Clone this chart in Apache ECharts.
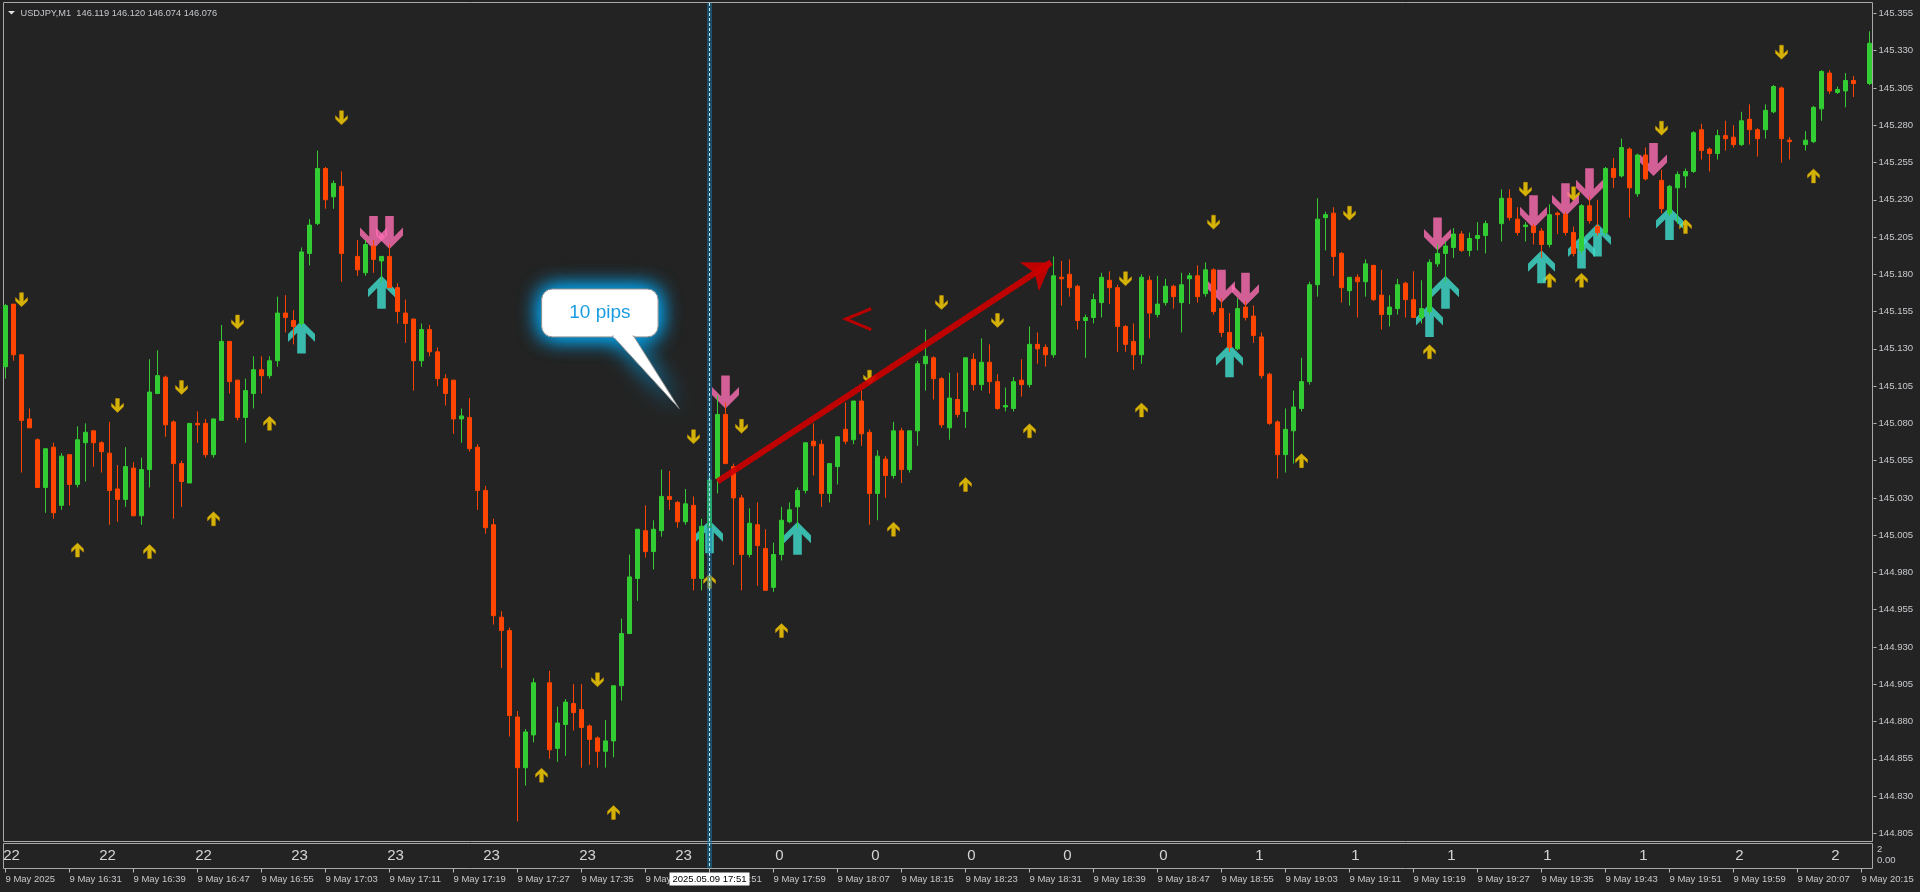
<!DOCTYPE html>
<html><head><meta charset="utf-8">
<script src="https://cdn.jsdelivr.net/npm/echarts@6.0.0/dist/echarts.min.js"></script>
<style>html,body{margin:0;padding:0;background:#232323;overflow:hidden}#c{width:1920px;height:892px}</style>
</head><body><div id="c"></div>
<script>
// ---------------- data ----------------
const symbolTitle = 'USDJPY,M1';
const headerQuote = '146.119 146.120 146.074 146.076';
const firstBarTime = [16, 23];   // 9 May 2025 16:23, M1 bars
const barCount = 234;
const times = [];
for (let k = 0; k < barCount; k++) {
  const m = firstBarTime[0] * 60 + firstBarTime[1] + k;
  times.push(String(Math.floor(m / 60)).padStart(2, '0') + ':' + String(m % 60).padStart(2, '0'));
}
const opens = [145.118,145.160,145.126,145.083,145.069,145.037,145.064,145.025,145.059,145.039,
145.067,145.075,145.067,145.060,145.036,145.029,145.050,145.018,145.049,145.100,
145.111,145.081,145.053,145.040,145.080,145.080,145.059,145.082,145.135,145.109,
145.084,145.100,145.116,145.112,145.122,145.154,145.149,145.147,145.194,145.214,
145.251,145.232,145.239,null,145.192,145.181,145.199,145.189,145.192,145.171,
145.154,145.150,145.122,145.143,145.128,145.110,145.109,145.083,145.084,145.064,
145.035,145.012,144.950,144.941,144.883,144.849,144.871,null,144.906,144.862,
144.878,144.892,144.888,144.877,144.869,144.860,144.867,144.904,144.939,144.976,
145.008,144.994,145.008,145.031,145.027,145.014,145.025,144.976,145.010,145.043,
145.086,145.051,145.030,144.992,145.012,144.996,144.970,144.992,145.014,145.024,
145.035,145.068,145.066,145.033,145.051,145.076,145.069,145.095,145.074,145.033,
145.056,145.045,145.075,145.049,145.075,145.120,145.124,145.110,145.077,145.096,
145.088,145.123,145.106,145.121,145.108,145.091,145.090,145.109,145.106,145.133,
145.131,145.126,145.178,145.180,145.172,145.149,145.151,145.161,145.176,145.171,
145.145,145.135,145.126,145.176,145.153,145.161,145.172,145.161,145.177,145.179,
145.167,145.183,145.157,145.141,145.130,145.158,145.152,145.138,145.113,145.081,
145.059,145.075,145.090,145.108,145.173,145.218,145.221,145.194,145.169,145.178,
145.175,145.186,145.166,145.153,145.157,145.174,145.163,145.151,145.155,145.187,
145.194,145.198,145.207,145.196,145.204,145.206,null,145.214,145.231,145.217,
145.212,145.212,145.209,145.200,145.221,145.220,145.208,145.196,145.226,145.212,
145.208,145.251,145.246,145.264,145.234,145.260,null,145.243,145.221,145.238,
145.246,145.249,145.277,145.264,145.261,145.273,145.272,145.267,145.284,145.277,
145.277,145.289,145.305,145.270,null,145.267,145.269,145.291,145.315,145.302,
145.303,145.310,null,145.308];
const highs = [145.160,145.160,145.126,145.090,145.070,145.063,145.067,145.060,145.059,145.078,
145.080,145.075,145.068,145.081,145.052,145.064,145.054,145.057,145.123,145.129,
145.112,145.082,145.055,145.080,145.088,145.083,145.083,145.146,145.135,145.109,
145.110,145.125,145.125,145.125,145.165,145.166,145.156,145.198,145.217,145.263,
145.252,145.243,145.249,null,145.203,145.203,145.203,145.192,145.200,145.174,
145.163,145.150,145.147,145.146,145.131,145.113,145.109,145.090,145.097,145.066,
145.038,145.016,144.954,144.943,144.887,144.875,144.909,null,144.914,144.890,
144.895,144.905,144.905,144.878,144.870,144.881,144.904,144.949,144.992,145.009,
145.025,145.015,145.049,145.048,145.028,145.036,145.031,145.016,145.045,145.099,
145.094,145.053,145.032,145.023,145.027,145.009,145.000,145.024,145.027,145.037,
145.067,145.080,145.069,145.053,145.071,145.094,145.095,145.102,145.076,145.062,
145.058,145.081,145.077,145.075,145.122,145.143,145.125,145.111,145.114,145.114,
145.124,145.127,145.137,145.133,145.113,145.104,145.111,145.123,145.145,145.141,
145.133,145.192,145.189,145.190,145.173,145.153,145.167,145.181,145.182,145.173,
145.146,145.147,145.180,145.179,145.179,145.177,145.173,145.181,145.181,145.186,
145.188,145.184,145.164,145.154,145.164,145.162,145.159,145.141,145.114,145.082,
145.090,145.102,145.124,145.175,145.231,145.222,145.225,145.195,145.178,145.180,
145.190,145.186,145.183,145.166,145.177,145.175,145.182,145.176,145.190,145.200,
145.202,145.211,145.209,145.208,145.215,145.216,null,145.237,145.237,145.225,
145.215,145.214,145.211,145.227,145.222,145.222,145.212,145.227,145.232,145.230,
145.252,145.258,145.271,145.265,145.261,145.265,null,145.250,145.240,145.249,
145.251,145.276,145.281,145.265,145.277,145.283,145.280,145.289,145.294,145.278,
145.294,145.307,145.306,145.272,null,145.276,145.293,145.317,145.317,145.306,
145.315,145.313,null,145.343];
const lows = [145.110,145.122,145.047,145.077,145.037,145.020,145.016,145.022,145.025,145.037,
145.041,145.051,145.047,145.012,145.014,145.024,145.018,145.012,145.037,145.100,
145.071,145.016,145.024,145.040,145.067,145.057,145.057,145.082,145.100,145.082,
145.067,145.090,145.100,145.110,145.118,145.141,145.133,145.145,145.186,145.213,
145.224,145.224,145.175,null,145.179,145.179,145.181,145.175,145.171,145.147,
145.134,145.102,145.118,145.125,145.105,145.092,145.073,145.067,145.061,145.022,
145.006,144.945,144.916,144.870,144.813,144.837,144.866,null,144.855,144.853,
144.857,144.874,144.849,144.851,144.849,144.849,144.856,144.894,144.939,144.961,
144.990,144.982,145.004,145.022,145.010,145.012,144.968,144.968,144.998,145.033,
145.053,144.985,144.968,144.990,144.971,144.968,144.967,144.988,145.013,145.010,
145.033,145.045,145.024,145.027,145.039,145.066,145.066,145.065,145.012,145.015,
145.030,145.043,145.040,145.047,145.065,145.102,145.096,145.077,145.069,145.084,
145.077,145.102,145.102,145.100,145.089,145.088,145.088,145.098,145.104,145.120,
145.118,145.124,145.159,145.165,145.143,145.124,145.147,145.151,145.160,145.128,
145.128,145.116,145.120,145.137,145.151,145.159,145.157,145.141,145.160,145.161,
145.165,145.153,145.138,145.128,145.129,145.149,145.134,145.110,145.079,145.043,
145.047,145.053,145.088,145.106,145.165,145.196,145.179,145.161,145.159,145.151,
145.165,145.162,145.143,145.145,145.153,145.151,145.151,145.147,145.153,145.185,
145.175,145.191,145.195,145.192,145.196,145.194,null,145.202,145.216,145.206,
145.202,145.200,145.191,145.198,145.207,145.206,145.192,145.194,145.214,145.206,
145.206,145.238,145.245,145.218,145.232,145.243,null,145.221,145.219,145.214,
145.238,145.248,145.257,145.249,145.257,145.263,145.265,145.266,145.267,145.259,
145.271,145.288,145.255,145.257,null,145.263,145.268,145.283,145.301,145.301,
145.292,145.299,null,145.307];
const closes = [145.159,145.126,145.082,145.077,145.037,145.063,145.020,145.058,145.039,145.069,
145.074,145.067,145.061,145.035,145.029,145.051,145.018,145.049,145.101,145.112,
145.079,145.053,145.041,145.080,145.079,145.059,145.083,145.135,145.108,145.084,
145.102,145.116,145.112,145.122,145.154,145.151,145.145,145.195,145.213,145.251,
145.230,145.241,145.194,null,145.183,145.200,145.190,145.192,145.171,145.155,
145.147,145.122,145.143,145.128,145.110,145.100,145.083,145.085,145.063,145.035,
145.010,144.951,144.941,144.884,144.849,144.873,144.906,null,144.861,144.879,
144.893,144.886,144.876,144.868,144.860,144.867,144.904,144.939,144.977,145.009,
144.994,145.009,145.031,145.029,145.014,145.026,144.976,145.011,145.042,145.086,
145.053,145.030,144.992,145.013,144.998,144.968,144.992,145.015,145.022,145.035,
145.067,145.065,145.033,145.053,145.071,145.068,145.095,145.073,145.033,145.058,
145.045,145.075,145.049,145.075,145.120,145.125,145.110,145.079,145.097,145.086,
145.124,145.106,145.121,145.108,145.090,145.092,145.108,145.106,145.133,145.130,
145.126,145.179,145.177,145.171,145.149,145.151,145.163,145.178,145.171,145.145,
145.133,145.126,145.178,145.154,145.160,145.172,145.165,145.173,145.179,145.165,
145.183,145.155,145.141,145.131,145.157,145.151,145.139,145.112,145.080,145.059,
145.076,145.091,145.108,145.173,145.217,145.220,145.192,145.171,145.178,145.175,
145.187,145.163,145.153,145.158,145.173,145.163,145.151,145.157,145.188,145.194,
145.199,145.207,145.196,145.204,145.206,145.214,null,145.231,145.218,145.208,
145.213,145.208,145.200,145.220,145.220,145.208,145.194,145.226,145.216,145.208,
145.251,145.245,145.265,145.238,145.260,145.244,null,145.224,145.239,145.247,
145.249,145.275,145.263,145.261,145.273,145.271,145.267,145.283,145.277,145.271,
145.290,145.306,145.271,145.269,null,145.270,145.292,145.316,145.303,145.304,
145.310,145.308,null,145.335];

// signal arrows: [bar index, price]
const yellowDown = [[2,145.163],[14,145.092],[22,145.104],[29,145.148],[42,145.285],[74,144.908],[86,145.071],[92,145.078],[108,145.111],[117,145.161],[124,145.149],[140,145.177],[151,145.215],[168,145.221],[190,145.237],[196,145.234],[207,145.278],[222,145.329]];
const yellowUp = [[9,144.995],[18,144.994],[26,145.016],[33,145.080],[67,144.844],[76,144.819],[88,144.974],[97,144.941],[111,145.009],[120,145.039],[128,145.075],[142,145.089],[162,145.055],[178,145.128],[193,145.176],[197,145.176],[210,145.212],[226,145.246]];
const pinkDown = [[46,145.208],[48,145.208],[90,145.101],[152,145.172],[155,145.170],[179,145.207],[191,145.222],[195,145.230],[198,145.240],[206,145.257]];
const cyanUp = [[37,145.138],[47,145.168],[88,145.004],[99,145.003],[153,145.122],[178,145.149],[180,145.168],[192,145.185],[197,145.195],[199,145.203],[208,145.214]];

// drawn objects (bar index, price)
const trendArrow = [[89.0,145.041],[130.7,145.188]];
const verticalLineBar = 88;
const calloutText = '10 pips';
const calloutTip = [84.2, 145.090];
const chevronAt = [106.6, 145.150];

// indicator sub-window
const subLabelBars = [0,12,24,36,48,60,72,84,96,108,120,132,144,156,168,180,192,204,216,228];
const subLabels = ['22','22','22','23','23','23','23','23','0','0','0','0','0','1','1','1','1','1','2','2'];
const subScaleLabels = ['2','0.00'];

// price scale
const priceMin = 144.805, priceMax = 145.362, priceStep = 0.025;

// ---------------- chart ----------------
const chart = echarts.init(document.getElementById('c'), null, {renderer:'canvas', width:1920, height:892});
const UP = '#32CD32', DOWN = '#FF4500', TXT = '#c6c8cc', FRAME = '#a8a8a8';
const FONT = '"Liberation Sans", Arial, sans-serif';
const upPath = 'path://M13.5,0L27,13.5L27,21.5L17.8,12.3L17.8,33L9.2,33L9.2,12.3L0,21.5L0,13.5Z';
const downPath = 'path://M13.5,33L27,19.5L27,11.5L17.8,20.7L17.8,0L9.2,0L9.2,20.7L0,11.5L0,19.5Z';

const candleData = opens.map((o, i) => o === null ? ['-','-','-','-'] : [o, closes[i], lows[i], highs[i]]);

const option = {
  backgroundColor: '#232323',
  animation: false,
  grid: [
    {left: 1.5, top: 3, width: 1872, height: 830.3},
    {left: 1.5, top: 844, width: 1872, height: 24.5}
  ],
  xAxis: [
    {type: 'category', gridIndex: 0, data: times, show: false, axisLine: {onZero: false}},
    {type: 'category', gridIndex: 1, data: times,
      axisLine: {show: false, onZero: false},
      axisTick: {show: true, alignWithLabel: true, interval: 7, length: 4, lineStyle: {color: '#b8b8b8'}},
      axisLabel: {interval: 7, align: 'left', margin: 6, color: TXT, fontSize: 9.5, fontFamily: FONT,
        formatter: (v, i) => i === 0 ? '9 May 2025' : '9 May ' + v},
      splitLine: {show: false}},
    {type: 'value', gridIndex: 0, min: -0.5, max: barCount - 0.5, show: false, axisLine: {onZero: false}}
  ],
  yAxis: [
    {type: 'value', gridIndex: 0, position: 'right', min: priceMin, max: priceMax, interval: priceStep,
      axisLine: {show: false, onZero: false},
      axisTick: {show: true, length: 3, lineStyle: {color: '#b8b8b8'}},
      axisLabel: {margin: 5, color: TXT, fontSize: 9.6, fontFamily: FONT, showMaxLabel: false,
        formatter: v => v.toFixed(3)},
      splitLine: {show: false}},
    {type: 'value', gridIndex: 1, min: 0, max: 1, show: false, axisLine: {onZero: false}}
  ],
  series: [
    {type: 'scatter', name: 'yellowDown', xAxisIndex: 0, yAxisIndex: 0, data: yellowDown, silent: true,
      symbol: downPath, symbolSize: [12, 14], z: 3,
      itemStyle: {color: '#FFD700', borderColor: '#e0a000', borderWidth: 0.5}},
    {type: 'scatter', name: 'yellowUp', xAxisIndex: 0, yAxisIndex: 0, data: yellowUp, silent: true,
      symbol: upPath, symbolSize: [12, 14], z: 3,
      itemStyle: {color: '#FFD700', borderColor: '#e0a000', borderWidth: 0.5}},
    {type: 'scatter', name: 'pinkDown', xAxisIndex: 0, yAxisIndex: 0, data: pinkDown, silent: true,
      symbol: downPath, symbolSize: [27, 33], z: 3,
      itemStyle: {color: '#FF6EB4', borderWidth: 0}},
    {type: 'scatter', name: 'cyanUp', xAxisIndex: 0, yAxisIndex: 0, data: cyanUp, silent: true,
      symbol: upPath, symbolSize: [27, 33], z: 3,
      itemStyle: {color: '#40E0D0', borderWidth: 0}},
    {type: 'candlestick', name: 'USDJPY', xAxisIndex: 0, yAxisIndex: 0, data: candleData, silent: true,
      barWidth: 4, z: 5,
      itemStyle: {color: UP, color0: DOWN, borderColor: UP, borderColor0: DOWN, borderWidth: 1}},
    {type: 'lines', coordinateSystem: 'cartesian2d', xAxisIndex: 2, yAxisIndex: 0, silent: true, z: 8,
      data: [{coords: trendArrow}], symbol: ['none', 'arrow'], symbolSize: [17, 26],
      lineStyle: {color: '#cc0000', width: 6, opacity: 0.92}},
    {type: 'scatter', name: 'sub', xAxisIndex: 1, yAxisIndex: 1, silent: true,
      data: subLabelBars.map(b => [b, 0.5]), symbolSize: 1, itemStyle: {color: 'rgba(0,0,0,0)'},
      label: {show: true, position: 'inside', offset: [6, 0], color: '#ffffff', fontSize: 15,
        fontFamily: '"Liberation Sans Narrow", "Liberation Sans", Arial, sans-serif',
        formatter: p => subLabels[p.dataIndex]}}
  ]
};
chart.setOption(option);

// ---------- annotations anchored through the chart's scales ----------
const toPx = (bar, price) => chart.convertToPixel({xAxisIndex: 2, yAxisIndex: 0}, [bar, price]);
const vx = chart.convertToPixel({xAxisIndex: 0}, verticalLineBar);
const tip = toPx(calloutTip[0], calloutTip[1]);
const chev = toPx(chevronAt[0], chevronAt[1]);
const glow = {shadowBlur: 22, shadowColor: 'rgba(0,175,255,1)'};
const boxL = tip[0] - 137.5, boxT = tip[1] - 119.5, boxW = 116.5, boxH = 48;
const tail = [[tip[0] - 66.5, boxT + boxH - 1], [tip[0] - 45.5, boxT + boxH - 1], [tip[0], tip[1]]];

const graphics = [
  // window frames
  {type: 'rect', z: 1, silent: true, shape: {x: 3.5, y: 2.5, width: 1869, height: 839}, style: {fill: null, stroke: FRAME, lineWidth: 1}},
  {type: 'rect', z: 1, silent: true, shape: {x: 3.5, y: 843.5, width: 1869, height: 25}, style: {fill: null, stroke: FRAME, lineWidth: 1}},
  // header
  {type: 'polygon', z: 20, silent: true, shape: {points: [[8, 11], [15, 11], [11.5, 14.5]]}, style: {fill: '#e0e0e0'}},
  {type: 'text', z: 20, silent: true, x: 20.5, y: 13, style: {text: symbolTitle + '  ' + headerQuote, fill: TXT, font: '9.25px ' + FONT, textVerticalAlign: 'middle'}},
  // sub-window scale
  {type: 'text', z: 20, silent: true, x: 1877, y: 849, style: {text: subScaleLabels[0], fill: TXT, font: '9.6px ' + FONT, textVerticalAlign: 'middle'}},
  {type: 'text', z: 20, silent: true, x: 1877, y: 860.5, style: {text: subScaleLabels[1], fill: TXT, font: '9.6px ' + FONT, textVerticalAlign: 'middle'}},
  // vertical line (selected)
  {type: 'rect', z: 30, silent: true, shape: {x: vx - 2.5, y: 3, width: 5, height: 865}, style: {fill: 'rgba(25,125,175,0.5)'}},
  {type: 'line', z: 31, silent: true, shape: {x1: vx, y1: 3, x2: vx, y2: 868}, style: {stroke: '#b5ecff', lineWidth: 1, lineDash: [3, 2]}},
  // time tag on the axis
  {type: 'rect', z: 40, silent: true, shape: {x: vx - 40, y: 872.5, width: 80, height: 13}, style: {fill: '#ffffff'}},
  {type: 'text', z: 41, silent: true, x: vx, y: 879, style: {text: '2025.05.09 ' + times[verticalLineBar], fill: '#000000', font: '9.5px ' + FONT, textAlign: 'center', textVerticalAlign: 'middle'}},
  // chevron
  {type: 'polyline', z: 12, silent: true, shape: {points: [[chev[0] + 13, chev[1] - 10.5], [chev[0] - 12.5, chev[1]], [chev[0] + 13, chev[1] + 10.5]]}, style: {stroke: '#b80000', lineWidth: 3, fill: null}},
  // callout glow
  {type: 'rect', z: 25, silent: true, shape: {x: boxL, y: boxT, width: boxW, height: boxH, r: 11}, style: Object.assign({fill: '#ffffff'}, glow)},
  {type: 'polygon', z: 25, silent: true, shape: {points: tail}, style: Object.assign({fill: '#ffffff'}, glow)},
  {type: 'rect', z: 25, silent: true, shape: {x: boxL, y: boxT, width: boxW, height: boxH, r: 11}, style: Object.assign({fill: '#ffffff'}, glow)},
  {type: 'rect', z: 26, silent: true, shape: {x: boxL, y: boxT, width: boxW, height: boxH, r: 11}, style: {fill: '#ffffff', stroke: '#8a8a8a', lineWidth: 1}},
  {type: 'polygon', z: 26, silent: true, shape: {points: tail}, style: {fill: '#ffffff', stroke: '#8a8a8a', lineWidth: 1}},
  {type: 'rect', z: 27, silent: true, shape: {x: tip[0] - 65.5, y: boxT + boxH - 3, width: 19, height: 4}, style: {fill: '#ffffff'}},
  {type: 'text', z: 28, silent: true, x: boxL + boxW / 2, y: boxT + boxH / 2, style: {text: calloutText, fill: '#1a9de0', font: '19px ' + FONT, textAlign: 'center', textVerticalAlign: 'middle'}}
];
chart.setOption({graphic: graphics});
</script>
</body></html>
